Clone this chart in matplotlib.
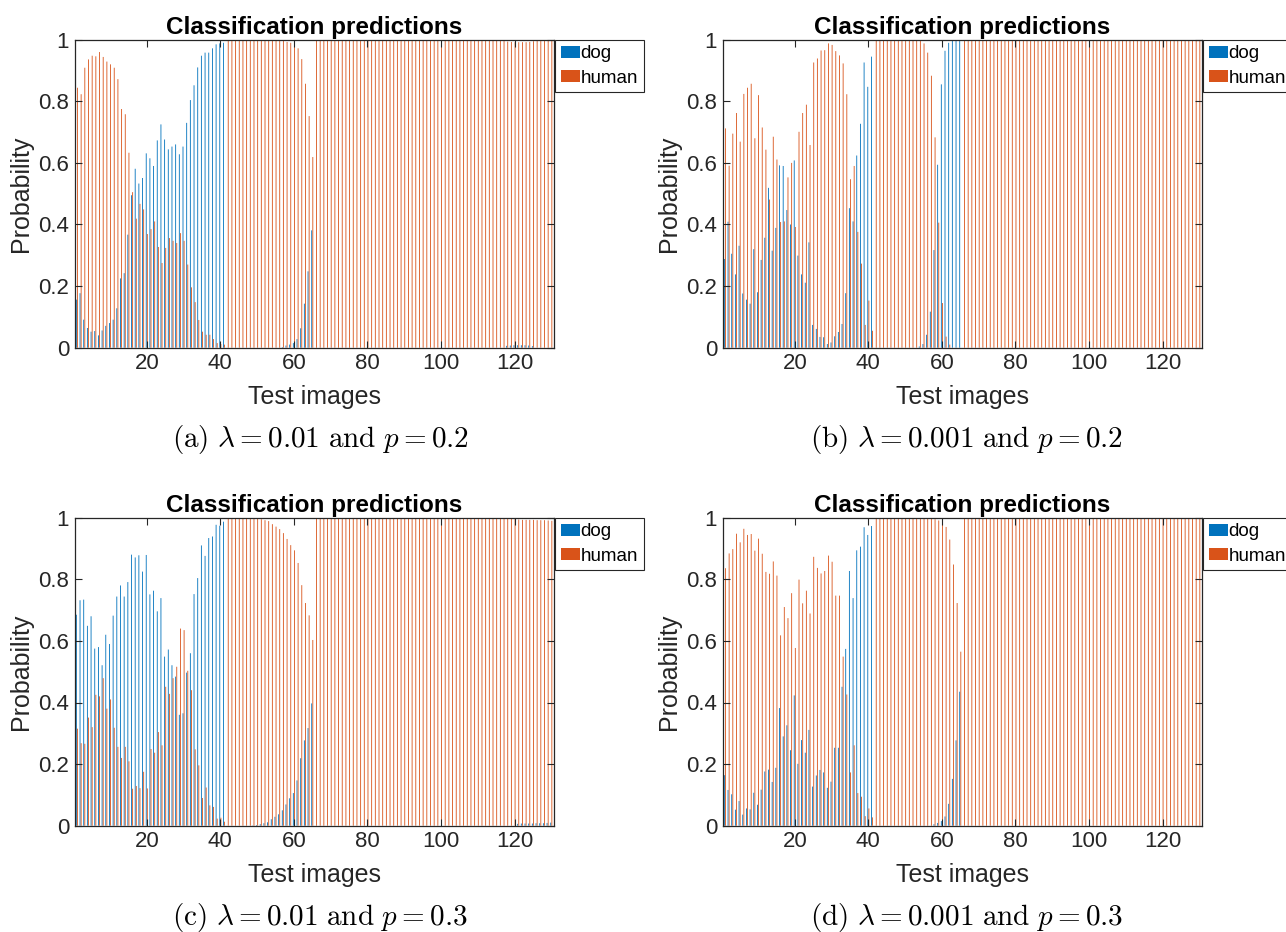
import numpy as np
import matplotlib
matplotlib.use('Agg')
import matplotlib.pyplot as plt

plt.rcParams['font.family'] = ['Liberation Sans', 'DejaVu Sans']
plt.rcParams['mathtext.fontset'] = 'cm'

# probability of "dog" for each of the 130 test images (human = 1 - dog)
dog_a = [0.156, 0.177, 0.091, 0.064, 0.052, 0.054, 0.040, 0.056, 0.071, 0.080,
         0.091, 0.128, 0.225, 0.242, 0.367, 0.495, 0.581, 0.533, 0.551, 0.631,
         0.615, 0.590, 0.673, 0.725, 0.676, 0.644, 0.653, 0.660, 0.628, 0.653,
         0.730, 0.804, 0.852, 0.910, 0.948, 0.958, 0.958, 0.972, 0.985, 0.988,
         0.990, 0.0, 0.0, 0.0, 0.0, 0.0, 0.0, 0.0, 0.0, 0.0,
         0.0, 0.0, 0.0, 0.0, 0.0, 0.0, 0.002, 0.007, 0.010, 0.015,
         0.028, 0.063, 0.143, 0.248, 0.381, 0.0, 0.0, 0.0, 0.0, 0.0,
         0.0, 0.0, 0.0, 0.0, 0.0, 0.0, 0.0, 0.0, 0.0, 0.0,
         0.0, 0.0, 0.0, 0.0, 0.0, 0.0, 0.0, 0.0, 0.0, 0.0,
         0.0, 0.0, 0.0, 0.0, 0.0, 0.0, 0.0, 0.0, 0.0, 0.0,
         0.0, 0.0, 0.0, 0.0, 0.0, 0.0, 0.0, 0.0, 0.0, 0.0,
         0.0, 0.0, 0.0, 0.0, 0.0, 0.0, 0.0, 0.006, 0.007, 0.008,
         0.008, 0.008, 0.008, 0.007, 0.005, 0.0, 0.0, 0.0, 0.0, 0.0]

dog_b = [0.288, 0.409, 0.305, 0.238, 0.331, 0.176, 0.156, 0.143, 0.320, 0.180,
         0.285, 0.357, 0.519, 0.315, 0.389, 0.592, 0.590, 0.447, 0.400, 0.608,
         0.299, 0.238, 0.211, 0.342, 0.074, 0.061, 0.035, 0.034, 0.012, 0.017,
         0.037, 0.051, 0.077, 0.177, 0.453, 0.410, 0.624, 0.727, 0.926, 0.847,
         0.945, 0.0, 0.0, 0.0, 0.0, 0.0, 0.0, 0.0, 0.0, 0.0,
         0.0, 0.0, 0.0, 0.004, 0.012, 0.042, 0.117, 0.317, 0.594, 0.855,
         0.964, 0.990, 1.0, 1.0, 1.0, 0.0, 0.0, 0.0, 0.0, 0.0,
         0.0, 0.0, 0.0, 0.0, 0.0, 0.0, 0.0, 0.0, 0.0, 0.0,
         0.0, 0.0, 0.0, 0.0, 0.0, 0.0, 0.0, 0.0, 0.0, 0.0,
         0.0, 0.0, 0.0, 0.0, 0.0, 0.0, 0.0, 0.0, 0.0, 0.0,
         0.0, 0.0, 0.0, 0.0, 0.0, 0.0, 0.0, 0.0, 0.0, 0.0,
         0.0, 0.0, 0.0, 0.0, 0.0, 0.0, 0.0, 0.0, 0.0, 0.0,
         0.0, 0.0, 0.0, 0.0, 0.0, 0.0, 0.0, 0.0, 0.0, 0.0]

dog_c = [0.685, 0.732, 0.734, 0.649, 0.680, 0.575, 0.580, 0.521, 0.620, 0.590,
         0.682, 0.744, 0.780, 0.744, 0.791, 0.880, 0.871, 0.878, 0.825, 0.879,
         0.751, 0.763, 0.696, 0.739, 0.549, 0.572, 0.521, 0.484, 0.360, 0.365,
         0.497, 0.560, 0.752, 0.804, 0.910, 0.876, 0.934, 0.939, 0.977, 0.974,
         0.987, 0.0, 0.0, 0.0, 0.0, 0.0, 0.0, 0.0, 0.001, 0.002,
         0.005, 0.008, 0.011, 0.021, 0.029, 0.037, 0.050, 0.069, 0.089, 0.106,
         0.147, 0.219, 0.277, 0.317, 0.397, 0.0, 0.0, 0.0, 0.0, 0.0,
         0.0, 0.0, 0.0, 0.0, 0.0, 0.0, 0.0, 0.0, 0.0, 0.0,
         0.0, 0.0, 0.0, 0.0, 0.0, 0.0, 0.0, 0.0, 0.0, 0.0,
         0.0, 0.0, 0.0, 0.0, 0.0, 0.0, 0.0, 0.0, 0.0, 0.0,
         0.0, 0.0, 0.0, 0.0, 0.0, 0.0, 0.0, 0.0, 0.0, 0.0,
         0.0, 0.0, 0.0, 0.0, 0.0, 0.0, 0.0, 0.0, 0.0, 0.0,
         0.006, 0.007, 0.007, 0.007, 0.007, 0.008, 0.008, 0.008, 0.009, 0.010]

dog_d = [0.164, 0.116, 0.102, 0.052, 0.080, 0.036, 0.056, 0.053, 0.107, 0.068,
         0.117, 0.176, 0.182, 0.142, 0.188, 0.382, 0.290, 0.326, 0.245, 0.423,
         0.201, 0.278, 0.237, 0.311, 0.127, 0.163, 0.181, 0.173, 0.123, 0.143,
         0.253, 0.253, 0.451, 0.574, 0.827, 0.739, 0.894, 0.906, 0.969, 0.944,
         0.973, 0.0, 0.0, 0.0, 0.0, 0.0, 0.0, 0.0, 0.0, 0.0,
         0.0, 0.0, 0.0, 0.0, 0.0, 0.0, 0.0, 0.005, 0.009, 0.015,
         0.030, 0.071, 0.152, 0.277, 0.435, 0.0, 0.0, 0.0, 0.0, 0.0,
         0.0, 0.0, 0.0, 0.0, 0.0, 0.0, 0.0, 0.0, 0.0, 0.0,
         0.0, 0.0, 0.0, 0.0, 0.0, 0.0, 0.0, 0.0, 0.0, 0.0,
         0.0, 0.0, 0.0, 0.0, 0.0, 0.0, 0.0, 0.0, 0.0, 0.0,
         0.0, 0.0, 0.0, 0.0, 0.0, 0.0, 0.0, 0.0, 0.0, 0.0,
         0.0, 0.0, 0.0, 0.0, 0.0, 0.0, 0.0, 0.0, 0.0, 0.0,
         0.0, 0.0, 0.0, 0.0, 0.0, 0.0, 0.0, 0.0, 0.0, 0.0]

captions = [r'$\mathrm{(a)}\ \lambda = 0.01\ \mathrm{and}\ p = 0.2$',
            r'$\mathrm{(b)}\ \lambda = 0.001\ \mathrm{and}\ p = 0.2$',
            r'$\mathrm{(c)}\ \lambda = 0.01\ \mathrm{and}\ p = 0.3$',
            r'$\mathrm{(d)}\ \lambda = 0.001\ \mathrm{and}\ p = 0.3$']

images = np.arange(1, 131)
blue = '#0072BD'
orange = '#D95319'
axcol = '#262626'

W, H = 1286, 932
fig = plt.figure(figsize=(W / 100, H / 100), dpi=100)

# axes boxes in pixels: left, top, right, bottom ; caption centre
boxes = [(74.7, 39.7, 553.5, 347.7, 320, 440),
         (722.7, 39.7, 1201.5, 347.7, 967, 440),
         (74.7, 517.7, 553.5, 825.7, 320, 918),
         (722.7, 517.7, 1201.5, 825.7, 967, 918)]

for dog, cap, (l, t, r, b, cx, cy) in zip([dog_a, dog_b, dog_c, dog_d], captions, boxes):
    dog = np.array(dog)
    human = 1 - dog
    ax = fig.add_axes([l / W, 1 - b / H, (r - l) / W, (b - t) / H])
    bd = ax.bar(images - 0.15, dog, width=0.23, color=blue, linewidth=0, label='dog')
    bh = ax.bar(images + 0.15, human, width=0.23, color=orange, linewidth=0, label='human')
    for p in list(bd) + list(bh):
        p.set_snap(False)
    ax.set_xlim(0.4, 130.6)
    ax.set_ylim(0, 1)
    ax.set_xticks([20, 40, 60, 80, 100, 120])
    ax.set_yticks([0, 0.2, 0.4, 0.6, 0.8, 1])
    ax.set_yticklabels(['0', '0.2', '0.4', '0.6', '0.8', '1'])
    ax.tick_params(direction='in', top=True, right=True, labelsize=16, length=5,
                   width=0.8, colors=axcol, pad=4)
    for sp in ax.spines.values():
        sp.set_color(axcol)
        sp.set_linewidth(0.9)
    ax.set_title('Classification predictions', fontsize=17.5, fontweight='bold', pad=4)
    ax.set_xlabel('Test images', fontsize=18, color=axcol, labelpad=8)
    ax.set_ylabel('Probability', fontsize=18, color=axcol, labelpad=4)
    leg = ax.legend(loc='upper left', bbox_to_anchor=(1.004, 1.0), fontsize=13.5,
                    frameon=True, fancybox=False, framealpha=1, edgecolor=axcol,
                    borderpad=0.3, labelspacing=0.4, handlelength=1.0,
                    handleheight=0.6, handletextpad=0.05, borderaxespad=0)
    leg.get_frame().set_linewidth(0.8)
    leg.legend_handles[0].set_snap(True)
    fig.text(cx / W, 1 - cy / H, cap, ha='center', va='center', fontsize=21)

fig.savefig('out.png', dpi=100)
